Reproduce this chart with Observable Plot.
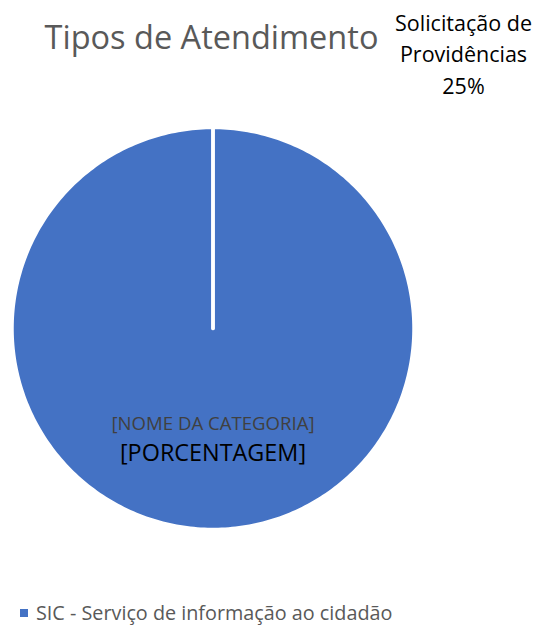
<!DOCTYPE html>
<html>
<head>
<meta charset="utf-8">
<script src="https://cdn.jsdelivr.net/npm/d3@7"></script>
<script src="https://cdn.jsdelivr.net/npm/@observablehq/plot@0.6"></script>
<style>
  html, body { margin: 0; padding: 0; background: #fff; }
  body { width: 549px; height: 633px; overflow: hidden; font-family: "Open Sans", sans-serif; }
  #legend { position: absolute; left: 20px; top: 600px; display: flex; align-items: center; font-size: 19.8px; color: #595959; line-height: 26px; }
  #legend .sw { width: 8px; height: 8px; margin-right: 8px; }
</style>
</head>
<body>
<div id="chart"></div>
<div id="legend"></div>
<script>
const title = "Tipos de Atendimento";
const categories = ["SIC - Serviço de informação ao cidadão", "Solicitação de Providências"];
const values = [100, 0];
const colors = ["#4472C4", "#ED7D31"];
const legendCategories = ["SIC - Serviço de informação ao cidadão"];
const placeholderName = "[NOME DA CATEGORIA]";
const placeholderPct = "[PORCENTAGEM]";
const outsideLabel = ["Solicitação de", "Providências", "25%"];

const rows = categories.map((c, i) => ({category: c, value: values[i]}));
const arcs = d3.pie().sort(null).value(d => d.value)(rows);
const points = [];
for (const a of arcs) {
  const n = Math.max(2, Math.ceil((a.endAngle - a.startAngle) / (Math.PI / 180)));
  points.push({category: a.data.category, x: 0, y: 0});
  for (let k = 0; k <= n; k++) {
    const t = a.startAngle + (a.endAngle - a.startAngle) * k / n;
    points.push({category: a.data.category, x: Math.sin(t), y: Math.cos(t)});
  }
  points.push({category: a.data.category, x: 0, y: 0});
}

const chart = Plot.plot({
  width: 549,
  height: 592,
  margin: 0,
  x: {domain: [-1, 1], range: [11.5, 413.5], axis: null},
  y: {domain: [-1, 1], range: [529, 127], axis: null},
  color: {domain: categories, range: colors},
  style: {fontFamily: "Open Sans, sans-serif", background: "#fff"},
  marks: [
    Plot.line(points, {x: "x", y: "y", z: "category", fill: "category", stroke: "white", strokeWidth: 3.5, strokeLinecap: "round", strokeLinejoin: "round"}),
    Plot.text([title], {frameAnchor: "top-left", dx: 211, dy: 38, lineAnchor: "middle", text: d => d, fontSize: 32.5, fill: "#595959", textAnchor: "middle"}),
    Plot.text([outsideLabel.join("\n")], {frameAnchor: "top-left", dx: 463, dy: 52, lineAnchor: "middle", text: d => d, fontSize: 21.5, fill: "#000", textAnchor: "middle", lineHeight: 1.45}),
    Plot.text([placeholderName], {x: 0, y: -0.473, text: d => d, fontSize: 18.6, fill: "#404040"}),
    Plot.text([placeholderPct], {x: 0, y: -0.622, text: d => d, fontSize: 23.4, fill: "#000"})
  ]
});
document.getElementById("chart").appendChild(chart);

const legend = document.getElementById("legend");
for (const c of legendCategories) {
  const sw = document.createElement("span");
  sw.className = "sw";
  sw.style.background = colors[categories.indexOf(c)];
  const tx = document.createElement("span");
  tx.textContent = c;
  legend.appendChild(sw);
  legend.appendChild(tx);
}
</script>
</body>
</html>
